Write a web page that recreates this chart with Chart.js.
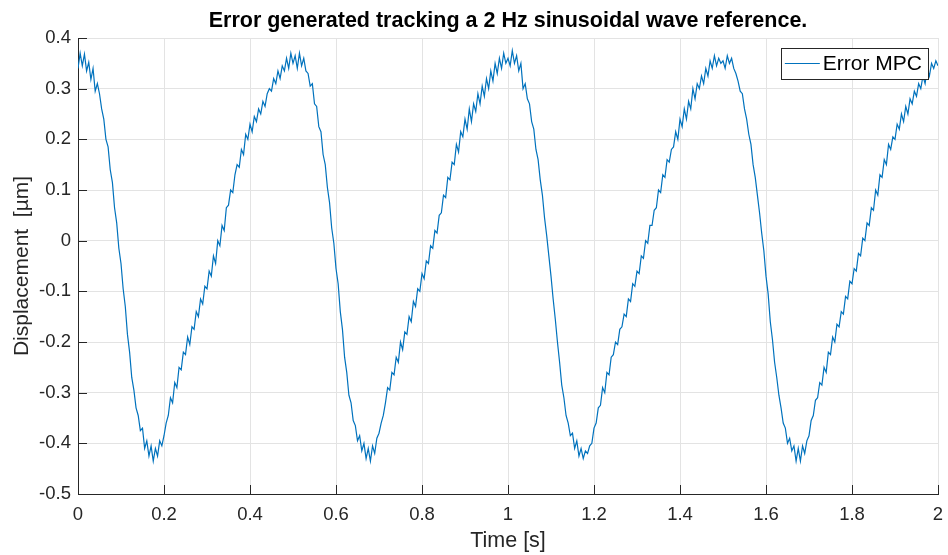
<!DOCTYPE html>
<html>
<head>
<meta charset="utf-8">
<title>Error MPC</title>
<script src="https://cdn.jsdelivr.net/npm/chart.js@4/dist/chart.umd.min.js"></script>
<style>
  html, body { margin: 0; padding: 0; background: #fff; }
  canvas { display: block; }
</style>
</head>
<body>
<canvas id="c" width="948" height="555"></canvas>
<script>
// sampling step of the recorded error (s)
const DT = 0.005;

// error samples, one array per 0.5 s period (um)
const cycle1 = [
  0.34, 0.37, 0.345, 0.368, 0.335, 0.352, 0.318, 0.34, 0.295, 0.31,
  0.29, 0.26, 0.24, 0.20, 0.185, 0.14, 0.115, 0.065, 0.035, -0.015,
  -0.045, -0.095, -0.13, -0.185, -0.22, -0.27, -0.295, -0.33, -0.345, -0.375,
  -0.37, -0.41, -0.395, -0.425, -0.405, -0.435, -0.41, -0.425, -0.395, -0.405,
  -0.385, -0.36, -0.345, -0.31, -0.32, -0.28, -0.29, -0.25, -0.255, -0.22,
  -0.225, -0.19, -0.205, -0.17, -0.175, -0.14, -0.15, -0.115, -0.125, -0.09,
  -0.095, -0.06, -0.07, -0.03, -0.045, 0.0, -0.01, 0.03, 0.02, 0.065,
  0.07, 0.1, 0.095, 0.13, 0.15, 0.145, 0.18, 0.17, 0.21, 0.2,
  0.23, 0.215, 0.245, 0.235, 0.26, 0.25, 0.275, 0.265, 0.29, 0.30,
  0.295, 0.32, 0.31, 0.335, 0.32, 0.345, 0.335, 0.36, 0.34, 0.37
];
const cycle2 = [
  0.35, 0.365, 0.34, 0.37, 0.345, 0.36, 0.335, 0.33, 0.305, 0.31,
  0.27, 0.265, 0.225, 0.215, 0.17, 0.15, 0.105, 0.075, 0.025, -0.005,
  -0.055, -0.085, -0.14, -0.175, -0.23, -0.26, -0.305, -0.32, -0.355, -0.365,
  -0.395, -0.385, -0.415, -0.4, -0.43, -0.41, -0.435, -0.405, -0.42, -0.39,
  -0.38, -0.36, -0.345, -0.32, -0.29, -0.295, -0.26, -0.265, -0.23, -0.24,
  -0.2, -0.215, -0.18, -0.185, -0.15, -0.16, -0.12, -0.13, -0.095, -0.1,
  -0.065, -0.075, -0.04, -0.045, -0.01, -0.015, 0.02, 0.015, 0.05, 0.055,
  0.09, 0.085, 0.125, 0.12, 0.155, 0.15, 0.19, 0.175, 0.215, 0.205,
  0.24, 0.22, 0.26, 0.235, 0.27, 0.255, 0.29, 0.27, 0.305, 0.285,
  0.32, 0.3, 0.335, 0.315, 0.35, 0.33, 0.36, 0.34, 0.37, 0.35
];
const cycle3 = [
  0.36, 0.345, 0.375, 0.35, 0.365, 0.335, 0.35, 0.3, 0.31, 0.28,
  0.27, 0.235, 0.22, 0.18, 0.16, 0.12, 0.09, 0.045, 0.01, -0.03,
  -0.07, -0.115, -0.155, -0.2, -0.24, -0.285, -0.31, -0.345, -0.36, -0.385,
  -0.38, -0.41, -0.395, -0.425, -0.41, -0.43, -0.415, -0.42, -0.405, -0.4,
  -0.37, -0.36, -0.33, -0.325, -0.29, -0.3, -0.26, -0.265, -0.23, -0.225,
  -0.2, -0.205, -0.175, -0.17, -0.145, -0.15, -0.115, -0.12, -0.085, -0.09,
  -0.06, -0.065, -0.03, -0.035, 0.0, -0.005, 0.03, 0.03, 0.06, 0.065,
  0.1, 0.095, 0.13, 0.125, 0.16, 0.155, 0.18, 0.185, 0.215, 0.2,
  0.24, 0.225, 0.26, 0.24, 0.275, 0.26, 0.3, 0.28, 0.31, 0.3,
  0.325, 0.31, 0.34, 0.325, 0.355, 0.34, 0.365, 0.345, 0.36, 0.35
];
const cycle4 = [
  0.355, 0.34, 0.365, 0.35, 0.36, 0.34, 0.33, 0.315, 0.295, 0.29,
  0.26, 0.24, 0.21, 0.19, 0.15, 0.125, 0.09, 0.055, 0.015, -0.02,
  -0.07, -0.105, -0.16, -0.195, -0.24, -0.27, -0.305, -0.33, -0.36, -0.37,
  -0.4, -0.39, -0.415, -0.405, -0.435, -0.41, -0.435, -0.405, -0.42, -0.395,
  -0.385, -0.355, -0.345, -0.315, -0.31, -0.28, -0.285, -0.25, -0.26, -0.22,
  -0.225, -0.19, -0.2, -0.165, -0.17, -0.14, -0.145, -0.11, -0.115, -0.08,
  -0.085, -0.055, -0.06, -0.025, -0.03, 0.005, 0.0, 0.035, 0.03, 0.065,
  0.06, 0.1, 0.09, 0.13, 0.125, 0.16, 0.15, 0.19, 0.18, 0.205,
  0.2, 0.23, 0.22, 0.25, 0.235, 0.265, 0.25, 0.28, 0.27, 0.295,
  0.285, 0.31, 0.3, 0.325, 0.31, 0.34, 0.325, 0.35, 0.34, 0.355
];
const lastSample = [0.345];

const errorMPC = [...cycle1, ...cycle2, ...cycle3, ...cycle4, ...lastSample];

const xRange = [0, 2];
const xStep = 0.2;
const yRange = [-0.5, 0.4];
const yStep = 0.1;

const TITLE = 'Error generated tracking a 2 Hz sinusoidal wave reference.';
const FONT = '"Liberation Sans", Arial, Helvetica, sans-serif';
const AXIS_COL = '#262626';
const LINE_COL = '#0072BD';

const points = errorMPC.map((v, i) => ({ x: i * DT, y: v }));

const fmt = v => {
  const r = Math.round(v * 10) / 10;
  return Object.is(r, -0) ? '0' : String(r);
};

// MATLAB style inward ticks
const inwardTicks = {
  id: 'inwardTicks',
  afterDatasetsDraw(chart){
    const { ctx, chartArea: a, scales: { x, y } } = chart;
    const len = 9;
    ctx.save();
    ctx.strokeStyle = AXIS_COL;
    ctx.lineWidth = 1;
    ctx.beginPath();
    x.ticks.forEach(t => {
      const px = Math.round(x.getPixelForValue(t.value)) + 0.5;
      ctx.moveTo(px, a.bottom);
      ctx.lineTo(px, a.bottom - len);
    });
    y.ticks.forEach(t => {
      const py = Math.round(y.getPixelForValue(t.value)) + 0.5;
      ctx.moveTo(a.left, py);
      ctx.lineTo(a.left + len, py);
    });
    ctx.stroke();
    ctx.restore();
  }
};

// title centred over the axes, boxed legend top right
const decorations = {
  id: 'decorations',
  afterDraw(chart){
    const { ctx, chartArea: a } = chart;
    ctx.save();
    ctx.fillStyle = '#000';
    ctx.font = 'bold 21.5px ' + FONT;
    ctx.textAlign = 'center';
    ctx.textBaseline = 'middle';
    ctx.fillText(TITLE, (a.left + a.right) / 2, 21);

    const label = chart.data.datasets[0].label;
    ctx.font = '21px ' + FONT;
    ctx.textAlign = 'left';
    const tw = ctx.measureText(label).width;
    const h = 31;
    const w = 42 + tw + 6;
    const right = a.right - 10;
    const top = a.top + 10;
    const left = right - w;
    ctx.fillStyle = '#fff';
    ctx.fillRect(left, top, w, h);
    ctx.strokeStyle = AXIS_COL;
    ctx.lineWidth = 1;
    ctx.strokeRect(Math.round(left) + 0.5, top + 0.5, Math.round(w), h);
    ctx.strokeStyle = LINE_COL;
    ctx.beginPath();
    ctx.moveTo(left + 4, top + h / 2);
    ctx.lineTo(left + 39, top + h / 2);
    ctx.stroke();
    ctx.fillStyle = '#000';
    ctx.fillText(label, left + 42, top + h / 2 + 1);
    ctx.restore();
  }
};

new Chart(document.getElementById('c'), {
  type: 'line',
  data: {
    datasets: [{
      label: 'Error MPC',
      data: points,
      borderColor: LINE_COL,
      borderWidth: 1.2,
      pointRadius: 0,
      tension: 0,
      fill: false
    }]
  },
  options: {
    responsive: false,
    animation: false,
    devicePixelRatio: 1,
    layout: { padding: { left: 0, right: 10, top: 38, bottom: 0 } },
    plugins: {
      legend: { display: false },
      tooltip: { enabled: false },
      title: { display: false }
    },
    scales: {
      x: {
        type: 'linear',
        min: xRange[0],
        max: xRange[1],
        afterFit(s){ s.height = 61; s.paddingLeft = 0; s.paddingRight = 0; },
        ticks: {
          stepSize: xStep,
          color: AXIS_COL,
          padding: 10,
          maxRotation: 0,
          autoSkip: false,
          font: { family: FONT, size: 18.5 },
          callback: v => fmt(v)
        },
        grid: { color: '#e3e3e3', drawTicks: false },
        border: { display: true, color: AXIS_COL, width: 1 },
        title: {
          display: true,
          text: 'Time [s]',
          color: AXIS_COL,
          font: { family: FONT, size: 21.5 },
          padding: { top: 0, bottom: 1 }
        }
      },
      y: {
        type: 'linear',
        min: yRange[0],
        max: yRange[1],
        afterFit(s){ s.width = 78; s.paddingTop = 0; s.paddingBottom = 0; },
        ticks: {
          stepSize: yStep,
          color: AXIS_COL,
          padding: 7,
          autoSkip: false,
          font: { family: FONT, size: 18.5 },
          callback: v => fmt(v)
        },
        grid: { color: '#e3e3e3', drawTicks: false },
        border: { display: true, color: AXIS_COL, width: 1 },
        title: {
          display: true,
          text: 'Displacement  [µm]',
          color: AXIS_COL,
          font: { family: FONT, size: 21 },
          padding: { top: 10, bottom: 0 }
        }
      }
    }
  },
  plugins: [inwardTicks, decorations]
});
</script>
</body>
</html>
